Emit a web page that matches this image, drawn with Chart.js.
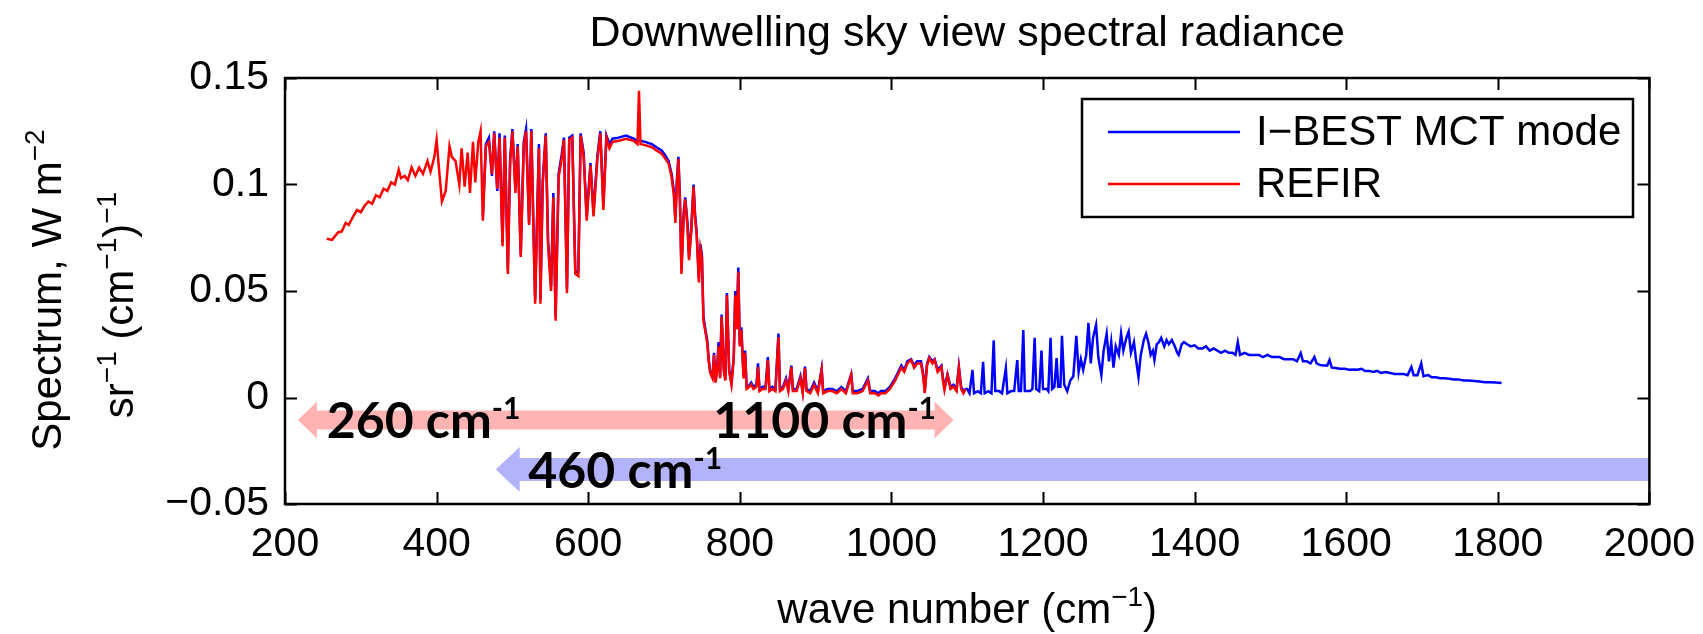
<!DOCTYPE html>
<html>
<head>
<meta charset="utf-8">
<script src="https://cdn.jsdelivr.net/npm/chart.js@4.4.0/dist/chart.umd.min.js"></script>
<style>
  html, body { margin: 0; padding: 0; background: #fff; }
  #spectrum { display: block; }
</style>
</head>
<body>
<canvas id="spectrum" width="1703" height="634"></canvas>
<script>
// REFIR (red), wave number in cm-1 and radiance
const redWn = [
  255,262,270,275,280,284,290,295,300,305,
  310,315,320,325,330,335,340,345,350,353,
  358,362,367,372,377,382,388,392,397,400,
  403,407,412,417,420,425,430,433,437,441,
  444,448,451,455,458,461,465,469,473,476,
  480,483,487,490,494,497,500,504,507,511,
  515,518,522,525,528,530,533,535,537,540,
  544,547,551,554,557,561,565,568,572,575,
  579,583,587,590,594,598,603,607,612,616,
  620,624,628,632,640,650,660,665,667,669,
  675,684,690,697,702,706,710,713,715,717,
  719,721,723,726,728,731,733,736,739,741,
  743,746,748,750,752,755,757,759,761,764,
  766,768,770,772,774,776,779,781,783,786,
  789,792,794,796,798,800,802,805,807,809,
  811,815,818,822,824,826,830,834,837,839,
  843,847,851,853,857,861,864,868,870,875,
  880,883,886,888,893,898,903,908,910,916,
  922,928,934,940,947,949,955,962,969,972,
  978,983,986,992,998,1005,1009,1013,1017,1021,
  1026,1030,1034,1039,1042,1044,1047,1050,1054,1057,
  1061,1066,1068,1070,1072,1074,1078,1082,1086,1089,
  1092,1095,1098
]
const redVal = [
  0.0745,0.074,0.0775,0.078,0.082,0.081,0.085,0.088,0.087,0.090,
  0.092,0.091,0.095,0.094,0.098,0.097,0.101,0.100,0.107,0.103,
  0.104,0.102,0.108,0.104,0.108,0.105,0.111,0.106,0.113,0.121,
  0.108,0.092,0.097,0.118,0.113,0.111,0.100,0.117,0.099,0.115,
  0.096,0.120,0.101,0.120,0.125,0.083,0.118,0.120,0.105,0.124,
  0.098,0.122,0.071,0.122,0.058,0.110,0.125,0.096,0.118,0.066,
  0.118,0.125,0.081,0.125,0.074,0.044,0.089,0.117,0.044,0.100,
  0.123,0.072,0.050,0.094,0.036,0.1035,0.112,0.121,0.049,0.121,
  0.122,0.058,0.057,0.123,0.113,0.083,0.109,0.085,0.1115,0.124,
  0.088,0.122,0.117,0.120,0.1205,0.1215,0.1205,0.119,0.144,0.119,
  0.1185,0.1175,0.116,0.1145,0.112,0.110,0.1035,0.095,0.082,0.100,
  0.112,0.092,0.058,0.085,0.093,0.080,0.0645,0.078,0.099,0.084,
  0.077,0.054,0.070,0.066,0.036,0.030,0.0256,0.017,0.0115,0.009,
  0.020,0.007,0.012,0.024,0.009,0.038,0.012,0.008,0.048,0.012,
  0.006,0.018,0.048,0.032,0.059,0.024,0.0317,0.009,0.021,0.004,
  0.0045,0.006,0.004,0.005,0.0143,0.003,0.004,0.004,0.0176,0.003,
  0.004,0.003,0.0284,0.003,0.004,0.008,0.003,0.0143,0.003,0.003,
  0.009,0.002,0.0138,0.003,0.002,0.006,0.002,0.0129,0.002,0.003,
  0.003,0.002,0.004,0.002,0.0105,0.002,0.002,0.003,0.008,0.002,
  0.002,0.001,0.002,0.002,0.004,0.008,0.011,0.014,0.012,0.016,
  0.0176,0.014,0.016,0.016,0.010,0.002,0.015,0.0185,0.016,0.0176,
  0.012,0.0143,0.008,0.0035,0.007,0.0105,0.004,0.005,0.003,0.0138,
  0.004,0.002,0.004
]

// I-BEST MCT mode (blue)
const blueWn = [
  461,465,469,473,476,480,483,487,490,494,
  497,500,504,507,511,515,518,522,525,528,
  530,533,535,537,540,544,547,551,554,557,
  561,565,568,572,575,579,583,587,590,594,
  598,603,607,612,616,620,624,628,632,640,
  650,660,665,669,675,684,690,697,702,706,
  710,713,715,717,719,721,723,726,728,731,
  733,736,739,741,743,746,748,750,752,755,
  757,759,761,764,766,768,770,772,774,776,
  779,781,783,786,789,792,794,796,798,800,
  802,805,807,809,811,815,818,822,824,826,
  830,834,837,839,843,847,851,853,857,861,
  864,868,870,875,880,883,886,888,893,898,
  903,908,910,916,922,928,934,940,947,949,
  955,962,969,972,978,983,986,992,998,1005,
  1009,1013,1017,1021,1026,1030,1034,1039,1042,1044,
  1047,1050,1054,1057,1061,1066,1068,1070,1072,1074,
  1078,1082,1086,1089,1092,1095,1098,1100,1103,1107,
  1109,1114,1118,1121,1123,1128,1132,1135,1137,1142,
  1146,1151,1153,1158,1162,1166,1168,1171,1174,1176,
  1180,1183,1186,1189,1191,1195,1198,1200,1205,1207,
  1210,1212,1215,1218,1220,1223,1225,1228,1232,1236,
  1240,1244,1247,1250,1253,1257,1260,1263,1266,1270,
  1273,1277,1280,1284,1287,1290,1293,1296,1300,1303,
  1306,1310,1313,1316,1320,1323,1326,1329,1333,1336,
  1339,1342,1345,1347,1350,1353,1356,1360,1363,1366,
  1370,1374,1377,1379,1383,1386,1390,1395,1400,1405,
  1410,1415,1420,1425,1430,1435,1440,1445,1450,1454,
  1457,1460,1466,1472,1478,1485,1490,1496,1502,1508,
  1512,1518,1524,1530,1535,1540,1543,1548,1553,1558,
  1561,1565,1570,1575,1578,1581,1586,1592,1598,1604,
  1610,1615,1620,1625,1630,1636,1641,1646,1652,1658,
  1664,1670,1676,1681,1686,1689,1694,1699,1702,1708,
  1713,1718,1724,1730,1736,1742,1748,1755,1762,1769,
  1776,1783,1790,1797,1805
]
const blueVal = [
  0.085,0.119,0.122,0.104,0.125,0.097,0.124,0.073,0.123,0.060,
  0.112,0.126,0.098,0.119,0.067,0.120,0.126,0.082,0.126,0.077,
  0.046,0.091,0.119,0.046,0.102,0.124,0.074,0.052,0.096,0.038,
  0.105,0.114,0.122,0.051,0.122,0.123,0.059,0.059,0.124,0.115,
  0.085,0.110,0.087,0.113,0.125,0.090,0.123,0.119,0.1215,0.122,
  0.123,0.1215,0.1205,0.1205,0.120,0.119,0.1175,0.116,0.1135,0.111,
  0.105,0.097,0.084,0.102,0.113,0.094,0.060,0.087,0.094,0.082,
  0.066,0.080,0.100,0.086,0.078,0.056,0.072,0.067,0.038,0.031,
  0.027,0.018,0.012,0.010,0.021,0.008,0.013,0.026,0.010,0.039,
  0.013,0.009,0.049,0.013,0.007,0.019,0.050,0.033,0.061,0.025,
  0.033,0.010,0.022,0.005,0.005,0.007,0.005,0.006,0.016,0.004,
  0.005,0.005,0.019,0.004,0.005,0.004,0.030,0.004,0.005,0.009,
  0.004,0.015,0.004,0.004,0.010,0.003,0.0145,0.004,0.003,0.007,
  0.003,0.0135,0.003,0.004,0.004,0.003,0.005,0.003,0.011,0.003,
  0.003,0.004,0.009,0.003,0.003,0.002,0.003,0.003,0.005,0.009,
  0.012,0.015,0.013,0.017,0.018,0.015,0.017,0.017,0.011,0.003,
  0.016,0.019,0.017,0.018,0.013,0.015,0.009,0.005,0.008,0.011,
  0.005,0.006,0.004,0.0145,0.005,0.003,0.004,0.004,0.002,0.013,
  0.002,0.003,0.002,0.0167,0.002,0.003,0.002,0.0268,0.003,0.003,
  0.002,0.0138,0.002,0.003,0.003,0.0176,0.003,0.003,0.0317,0.003,
  0.003,0.003,0.004,0.028,0.004,0.003,0.022,0.004,0.004,0.003,
  0.028,0.004,0.005,0.0185,0.005,0.005,0.029,0.006,0.003,0.008,
  0.010,0.029,0.012,0.018,0.013,0.020,0.035,0.016,0.028,0.034,
  0.019,0.0105,0.022,0.030,0.017,0.026,0.014,0.024,0.020,0.030,
  0.022,0.028,0.031,0.021,0.026,0.017,0.0096,0.020,0.027,0.030,
  0.026,0.020,0.022,0.0176,0.025,0.026,0.028,0.024,0.027,0.025,
  0.027,0.024,0.021,0.020,0.025,0.026,0.025,0.024,0.0245,0.023,
  0.023,0.024,0.022,0.023,0.022,0.021,0.022,0.021,0.021,0.020,
  0.026,0.020,0.021,0.020,0.020,0.020,0.019,0.020,0.019,0.019,
  0.019,0.018,0.018,0.018,0.017,0.0208,0.017,0.017,0.016,0.019,
  0.016,0.0153,0.015,0.015,0.0176,0.014,0.0138,0.0135,0.0135,0.013,
  0.0132,0.013,0.0135,0.0125,0.0125,0.012,0.0125,0.0115,0.012,0.0115,
  0.011,0.011,0.011,0.0105,0.0143,0.0105,0.0105,0.016,0.010,0.0105,
  0.0095,0.0095,0.009,0.009,0.0088,0.0085,0.0085,0.008,0.008,0.0078,
  0.0075,0.0072,0.0072,0.007,0.0068
]

const seriesNames = ['I\u2212BEST MCT mode', 'REFIR']
const xRange = [200, 2000]
const yRange = [-0.05, 0.15]

const FONT = '"Liberation Sans", Arial, Helvetica, sans-serif'
const NOTE_FONT = 'Lato, "Open Sans", sans-serif'

// draws a run of text pieces, some raised as superscripts
function drawRich(ctx, parts, x, y, opt) {
  let total = 0
  const widths = parts.map(p => {
    ctx.font = opt.weight + ' ' + (p[1] ? opt.sup : opt.size) + 'px ' + opt.family
    const w = ctx.measureText(p[0]).width
    total += w
    return w
  })
  let cx = opt.align === 'center' ? x - total / 2 : x
  ctx.textAlign = 'left'
  ctx.textBaseline = 'alphabetic'
  parts.forEach((p, i) => {
    ctx.font = opt.weight + ' ' + (p[1] ? opt.sup : opt.size) + 'px ' + opt.family
    ctx.fillText(p[0], cx, p[1] ? y - opt.rise : y)
    cx += widths[i]
  })
}

function drawArrow(ctx, x1, x2, y, shaft, headLen, headHalf, leftHead, rightHead) {
  const h = shaft / 2
  ctx.beginPath()
  if (leftHead) {
    ctx.moveTo(x1, y)
    ctx.lineTo(x1 + headLen, y - headHalf)
    ctx.lineTo(x1 + headLen, y - h)
  } else {
    ctx.moveTo(x1, y - h)
  }
  if (rightHead) {
    ctx.lineTo(x2 - headLen, y - h)
    ctx.lineTo(x2 - headLen, y - headHalf)
    ctx.lineTo(x2, y)
    ctx.lineTo(x2 - headLen, y + headHalf)
    ctx.lineTo(x2 - headLen, y + h)
  } else {
    ctx.lineTo(x2, y - h)
    ctx.lineTo(x2, y + h)
  }
  if (leftHead) {
    ctx.lineTo(x1 + headLen, y + h)
    ctx.lineTo(x1 + headLen, y + headHalf)
  } else {
    ctx.lineTo(x1, y + h)
  }
  ctx.closePath()
  ctx.fill()
}

const decorations = {
  id: 'decorations',
  afterDraw(chart) {
    const ctx = chart.ctx
    const area = chart.chartArea
    const xs = chart.scales.x
    const ys = chart.scales.y
    ctx.save()

    // range arrows with their labels
    const note = { weight: 'bold', size: 50, sup: 30, rise: 19, family: NOTE_FONT, align: 'left' }
    ctx.fillStyle = '#ffb3b3'
    drawArrow(ctx, xs.getPixelForValue(217), xs.getPixelForValue(1082), ys.getPixelForValue(-0.0106), 19, 19, 18.5, true, true)
    ctx.fillStyle = '#b3b3fa'
    drawArrow(ctx, xs.getPixelForValue(478), area.right, ys.getPixelForValue(-0.0338), 23, 24, 22.5, true, false)
    ctx.fillStyle = '#000'
    drawRich(ctx, [['260 cm', false], ['-1', true]], xs.getPixelForValue(255), ys.getPixelForValue(-0.019), note)
    drawRich(ctx, [['1100 cm', false], ['-1', true]], xs.getPixelForValue(765), ys.getPixelForValue(-0.019), note)
    drawRich(ctx, [['460 cm', false], ['-1', true]], xs.getPixelForValue(521), ys.getPixelForValue(-0.0425), note)

    // axes box with inward ticks
    ctx.strokeStyle = '#000'
    ctx.lineWidth = 2
    ctx.beginPath()
    xs.ticks.forEach(t => {
      const px = Math.round(xs.getPixelForValue(t.value)) + 0.5
      ctx.moveTo(px, area.bottom); ctx.lineTo(px, area.bottom - 12)
      ctx.moveTo(px, area.top); ctx.lineTo(px, area.top + 12)
    })
    ys.ticks.forEach(t => {
      const py = Math.round(ys.getPixelForValue(t.value)) + 0.5
      ctx.moveTo(area.left, py); ctx.lineTo(area.left + 12, py)
      ctx.moveTo(area.right, py); ctx.lineTo(area.right - 12, py)
    })
    ctx.stroke()
    ctx.lineWidth = 2.5
    ctx.strokeRect(area.left, area.top, area.right - area.left, area.bottom - area.top)

    // title and axis labels
    const lab = { weight: 'normal', size: 42, sup: 28, rise: 17, family: FONT, align: 'center' }
    const midX = (area.left + area.right) / 2
    ctx.font = '43px ' + FONT
    ctx.textAlign = 'center'
    ctx.textBaseline = 'alphabetic'
    ctx.fillText('Downwelling sky view spectral radiance', midX, 46)
    drawRich(ctx, [['wave number (cm', false], ['\u22121', true], [')', false]], midX, 623, lab)

    ctx.save()
    ctx.translate(61, 290)
    ctx.rotate(-Math.PI / 2)
    drawRich(ctx, [['Spectrum, W m', false], ['\u22122', true]], 0, 0, lab)
    ctx.restore()
    ctx.save()
    ctx.translate(133, 305)
    ctx.rotate(-Math.PI / 2)
    drawRich(ctx, [['sr', false], ['\u22121', true], [' (cm', false], ['\u22121', true], [')', false], ['\u22121', true]], 0, 0, lab)
    ctx.restore()

    // legend box
    const box = { left: 1082, top: 99, right: 1633, bottom: 217 }
    ctx.fillStyle = '#fff'
    ctx.fillRect(box.left, box.top, box.right - box.left, box.bottom - box.top)
    ctx.lineWidth = 2.5
    ctx.strokeStyle = '#000'
    ctx.strokeRect(box.left, box.top, box.right - box.left, box.bottom - box.top)
    const rows = [132, 184]
    const legendColors = [chart.data.datasets[0].borderColor, chart.data.datasets[1].borderColor]
    ctx.font = '42px ' + FONT
    ctx.textAlign = 'left'
    ctx.textBaseline = 'middle'
    seriesNames.forEach((name, i) => {
      ctx.strokeStyle = legendColors[i]
      ctx.lineWidth = 2.5
      ctx.beginPath()
      ctx.moveTo(1108, rows[i])
      ctx.lineTo(1240, rows[i])
      ctx.stroke()
      ctx.fillStyle = '#000'
      ctx.fillText(name, 1256, rows[i] + 1)
    })
    ctx.restore()
  }
}

const data = {
  datasets: [
    {
      label: seriesNames[0],
      data: blueWn.map((w, i) => ({ x: w, y: blueVal[i] })),
      borderColor: '#0000ff',
      borderWidth: 2.5,
      pointRadius: 0,
      order: 1
    },
    {
      label: seriesNames[1],
      data: redWn.map((w, i) => ({ x: w, y: redVal[i] })),
      borderColor: '#ff0000',
      borderWidth: 2.5,
      pointRadius: 0,
      order: 0
    }
  ]
}

const config = {
  type: 'line',
  data,
  options: {
    responsive: false,
    animation: false,
    parsing: false,
    layout: { padding: { left: 0, right: 49, top: 78, bottom: 0 } },
    plugins: {
      legend: { display: false },
      tooltip: { enabled: false }
    },
    scales: {
      x: {
        type: 'linear',
        min: xRange[0],
        max: xRange[1],
        afterFit: s => { s.height = 130 },
        grid: { display: false },
        border: { display: false },
        ticks: {
          stepSize: 200,
          autoSkip: false,
          maxRotation: 0,
          padding: 8,
          color: '#000',
          font: { family: FONT, size: 41 },
          callback: v => String(v)
        }
      },
      y: {
        type: 'linear',
        min: yRange[0],
        max: yRange[1],
        afterFit: s => { s.width = 285 },
        grid: { display: false },
        border: { display: false },
        ticks: {
          stepSize: 0.05,
          padding: 8,
          color: '#000',
          font: { family: FONT, size: 41 },
          callback: v => {
            const s = String(Number(v.toFixed(2)))
            return s.replace('-', '\u2212')
          }
        }
      }
    }
  },
  plugins: [decorations]
}

const spectrumChart = new Chart(document.getElementById('spectrum'), config)
</script>
</body>
</html>
